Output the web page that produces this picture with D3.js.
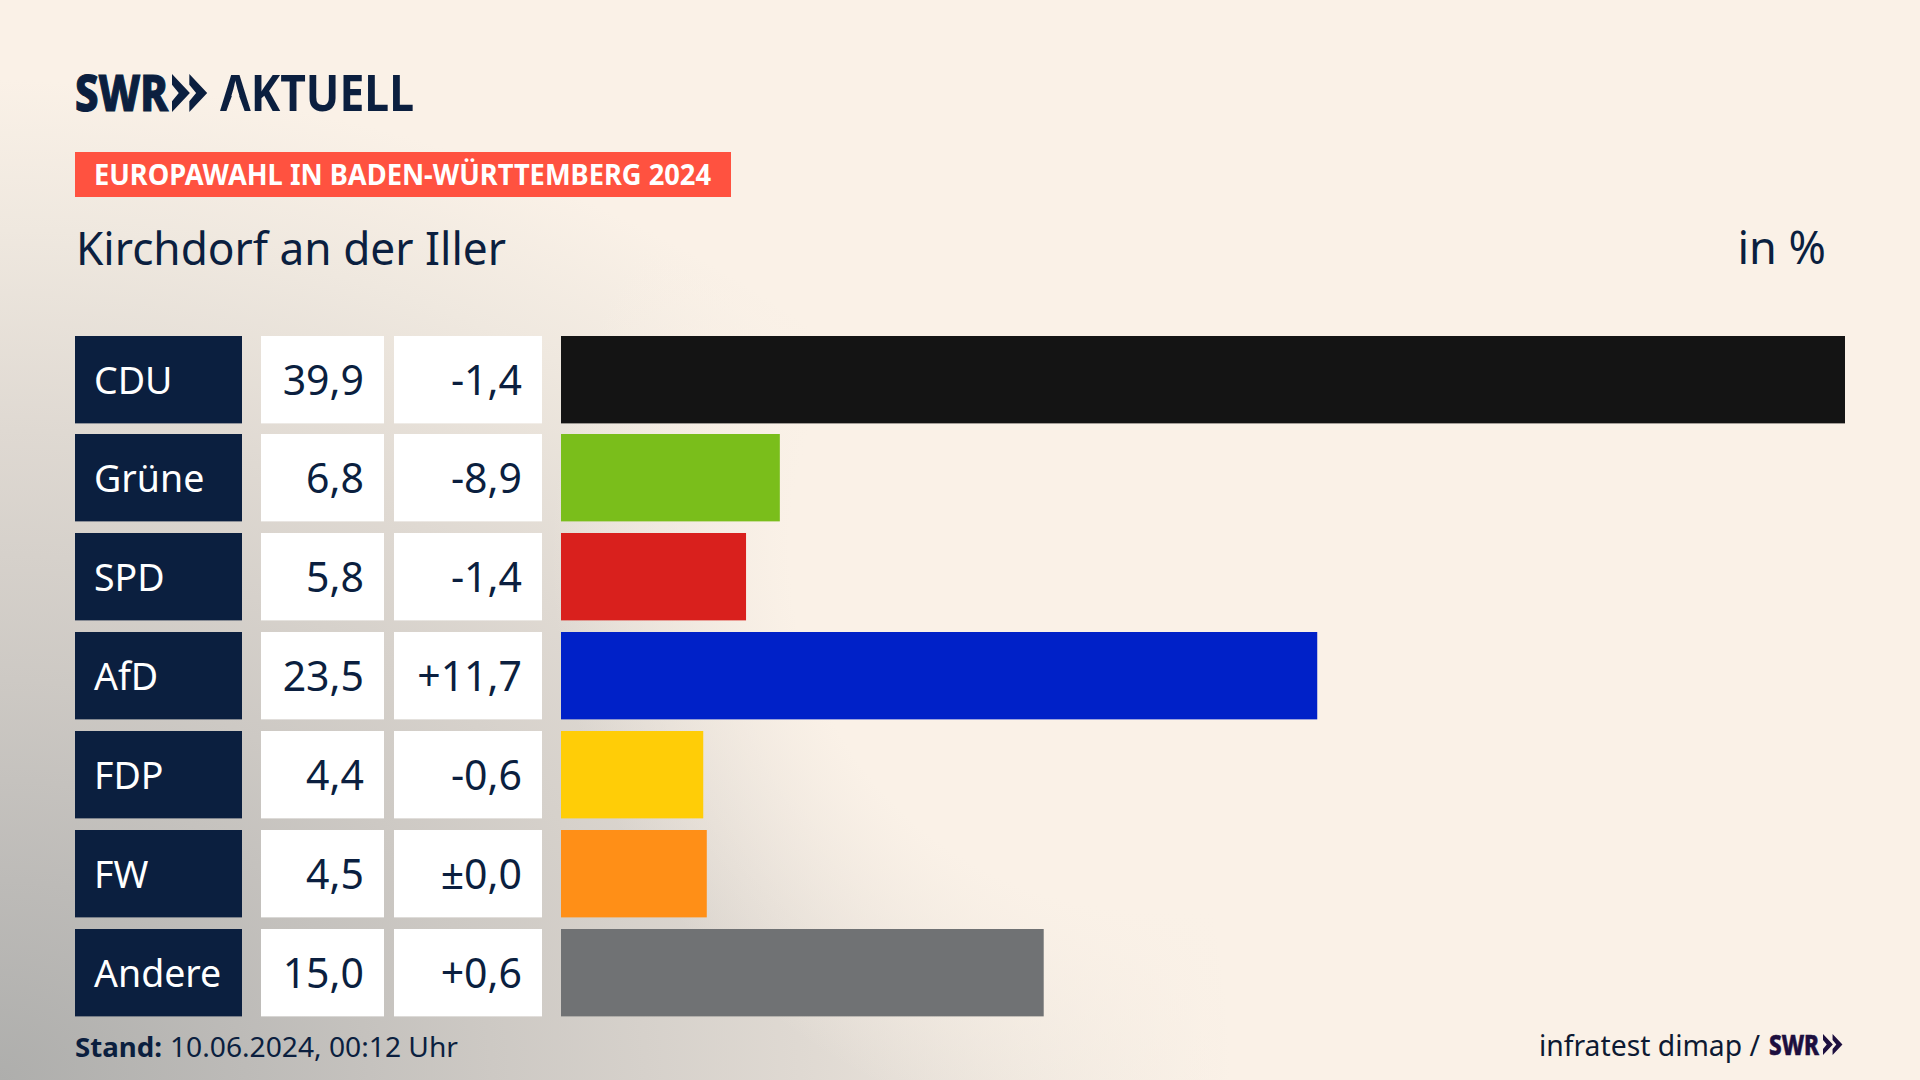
<!DOCTYPE html>
<html lang="de">
<head>
<meta charset="utf-8">
<title>Europawahl Kirchdorf an der Iller</title>
<script src="https://cdn.jsdelivr.net/npm/d3@7"></script>
<style>
  html, body { margin: 0; padding: 0; background: #faf1e7; overflow: hidden; }
  text { font-family: "Noto Sans", sans-serif; }
</style>
</head>
<body>
<svg id="chart" width="1920" height="1080"></svg>
<script>
// values, bar lengths show a bit more than the printed digit
const parties = ["CDU", "Grüne", "SPD", "AfD", "FDP", "FW", "Andere"];
const shares = [39.9, 6.8, 5.75, 23.5, 4.42, 4.53, 15.0];
const changes = [-1.4, -8.9, -1.4, 11.7, -0.6, 0.0, 0.6];
const partyColors = ["#141414", "#7abe1b", "#d9201d", "#0021c8", "#ffcd07", "#ff8f17", "#707274"];

const navy = "#0b1f3f";
const cream = "#faf1e7";
const svg = d3.select("#chart");
const defs = svg.append("defs");

// background wash from the bottom left corner
const wash = defs.append("radialGradient").attr("id", "wash")
    .attr("gradientUnits", "userSpaceOnUse")
    .attr("cx", 0).attr("cy", 0).attr("r", 1)
    .attr("gradientTransform", "translate(0,1080) scale(1230,1000)");
[[0, "#aeaeac"], [0.2, "#bdbbb8"], [0.4, "#cdc9c4"], [0.65, "#dfd9d2"], [0.85, "#efe8df"], [1, cream]].forEach(s => {
    wash.append("stop").attr("offset", s[0]).attr("stop-color", s[1]);
});
svg.append("rect").attr("width", 1920).attr("height", 1080).attr("fill", "url(#wash)");

// the lighter patch that pushes the wash back in the middle
const patch = defs.append("radialGradient").attr("id", "patch")
    .attr("gradientUnits", "userSpaceOnUse")
    .attr("cx", 1150).attr("cy", 550).attr("r", 600);
[[0, 1], [0.6, 1], [1, 0]].forEach(s => {
    patch.append("stop").attr("offset", s[0]).attr("stop-color", cream).attr("stop-opacity", s[1]);
});
svg.append("rect").attr("width", 1920).attr("height", 1080).attr("fill", "url(#patch)");

const de = d3.formatLocale({ decimal: ",", thousands: ".", grouping: [3], currency: ["", "€"] });
const fmtShare = de.format(".1f");
const fmtChange = v => v === 0 ? "±0,0" : de.format("+.1f")(v).replace("−", "-");

const y = d3.scaleBand().domain(parties).range([336, 1016]).paddingInner(0.12);
const x = d3.scaleLinear().domain([0, 39.9]).range([561, 1845]);
const color = d3.scaleOrdinal().domain(parties).range(partyColors);
const rowH = y.bandwidth() + 0.4;

// squeeze a label to the width it has in the picture
function put(g, str, px, py, size, opts) {
    opts = opts || {};
    const t = g.append("text").attr("x", px).attr("y", py)
        .attr("font-size", size)
        .attr("font-weight", opts.weight || 400)
        .attr("fill", opts.fill || navy)
        .attr("text-anchor", opts.anchor || "start")
        .text(str);
    if (opts.width) t.attr("textLength", opts.width).attr("lengthAdjust", "spacingAndGlyphs");
    return t;
}

function chevrons(g, px, py, h, fill) {
    const w = h * 0.47;
    [0, 1].forEach(i => {
        const x0 = px + i * w * 0.97;
        g.append("path")
            .attr("d", `M${x0},${py}L${x0 + w},${py + h / 2}L${x0},${py + h}L${x0},${py + h * 0.72}L${x0 + w * 0.38},${py + h / 2}L${x0},${py + h * 0.28}Z`)
            .attr("fill", fill);
    });
}

// the logo's A has no crossbar
const noBar = defs.append("mask").attr("id", "nobar").attr("maskUnits", "userSpaceOnUse")
    .attr("x", 200).attr("y", 60).attr("width", 240).attr("height", 60);
noBar.append("rect").attr("x", 200).attr("y", 60).attr("width", 240).attr("height", 60).attr("fill", "#fff");
noBar.append("path").attr("d", "M235.5,86L226,112L245,112Z").attr("fill", "#000");

// header
const head = svg.append("g");
put(head, "SWR", 75, 111, 50, { weight: 800, width: 93 }).attr("stroke", navy).attr("stroke-width", 1.2);
chevrons(head, 172, 74, 38, navy);
put(head, "AKTUELL", 220, 111, 50, { weight: 700, width: 194 }).attr("mask", "url(#nobar)");

head.append("rect").attr("x", 75).attr("y", 152).attr("width", 656).attr("height", 45).attr("fill", "#ff5240");
put(head, "EUROPAWAHL IN BADEN-WÜRTTEMBERG 2024", 94, 185, 28, { weight: 700, fill: "#ffffff", width: 617 });
put(head, "Kirchdorf an der Iller", 76, 265, 45, { width: 430 });
put(head, "in %", 1826, 264, 45, { anchor: "end" });

// rows
const rows = svg.selectAll("g.row").data(parties).join("g").attr("class", "row")
    .attr("transform", d => `translate(0,${Math.floor(y(d))})`);

rows.append("rect").attr("x", 75).attr("width", 167).attr("height", rowH).attr("fill", navy);
rows.append("rect").attr("x", 261).attr("width", 123).attr("height", rowH).attr("fill", "#fff");
rows.append("rect").attr("x", 394).attr("width", 148).attr("height", rowH).attr("fill", "#fff");
rows.append("rect").attr("x", x(0)).attr("width", (d, i) => x(shares[i]) - x(0))
    .attr("height", rowH).attr("fill", d => color(d));

rows.append("text").attr("x", 94).attr("y", 58).attr("font-size", 37.5).attr("fill", "#fff").text(d => d);
rows.append("text").attr("x", 364).attr("y", 59).attr("font-size", 41).attr("fill", navy)
    .attr("text-anchor", "end").text((d, i) => fmtShare(shares[i]));
rows.append("text").attr("x", 522).attr("y", 59).attr("font-size", 41).attr("fill", navy)
    .attr("text-anchor", "end").text((d, i) => fmtChange(changes[i]));

// footer
const foot = svg.append("g");
put(foot, "Stand:", 75, 1057, 27, { weight: 700, width: 87 });
put(foot, "10.06.2024, 00:12 Uhr", 170, 1057, 27, { width: 288 });
put(foot, "infratest dimap /", 1539, 1056, 29, { width: 221, fill: "#0d1a33" });
put(foot, "SWR", 1769, 1055, 28, { weight: 800, width: 50, fill: "#1d0f3f" }).attr("stroke", "#1d0f3f").attr("stroke-width", 0.6);
chevrons(foot, 1823, 1034, 21, "#1d0f3f");
</script>
</body>
</html>
